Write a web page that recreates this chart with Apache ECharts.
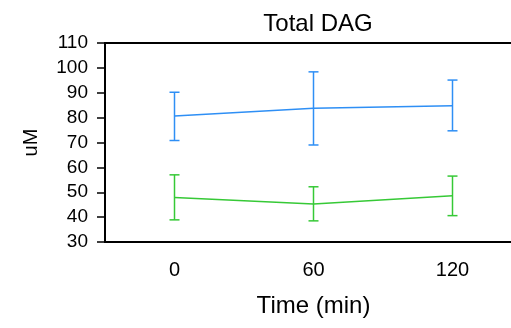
<!DOCTYPE html>
<html><head><meta charset="utf-8">
<script src="https://cdn.jsdelivr.net/npm/echarts@6/dist/echarts.min.js"></script>
<style>html,body{margin:0;padding:0;background:#fff}#c{width:511px;height:328px}</style>
</head><body><div id="c"></div>
<script>
var categories = ['0', '60', '120'];
var blueMean = [80.7, 83.8, 84.8];
var blueLow = [70.8, 69.0, 74.7];
var blueHigh = [90.2, 98.4, 95.1];
var greenMean = [47.9, 45.3, 48.6];
var greenLow = [38.9, 38.5, 40.6];
var greenHigh = [57.0, 52.2, 56.5];
var yTicks = {min: 30, max: 110, interval: 10};

var BLUE = '#2e8ff5';
var GREEN = '#36c936';
var FONT = 'Liberation Sans, Arial, sans-serif';

function errSeries(low, high, color) {
  return {
    type: 'custom',
    data: categories.map(function (c, i) { return [i, low[i], high[i]]; }),
    renderItem: function (params, api) {
      var lo = api.coord([api.value(0), api.value(1)]);
      var hi = api.coord([api.value(0), api.value(2)]);
      var w = 5;
      var st = {stroke: color, lineWidth: 1.5};
      return {type: 'group', children: [
        {type: 'line', shape: {x1: lo[0], y1: lo[1], x2: hi[0], y2: hi[1]}, style: st},
        {type: 'line', shape: {x1: lo[0] - w, y1: lo[1], x2: lo[0] + w, y2: lo[1]}, style: st},
        {type: 'line', shape: {x1: hi[0] - w, y1: hi[1], x2: hi[0] + w, y2: hi[1]}, style: st}
      ]};
    },
    z: 3
  };
}

var chart = echarts.init(document.getElementById('c'));
chart.setOption({
  animation: false,
  title: {text: 'Total DAG', left: 313, textAlign: 'center', top: 7,
    textStyle: {fontFamily: FONT, fontSize: 24, fontWeight: 'normal', color: '#000'}},
  grid: {left: 105, top: 43, width: 417, height: 199, show: true, borderColor: '#000', borderWidth: 2,
    containLabel: false, outerBoundsMode: 'none'},
  xAxis: {
    type: 'category', data: categories, boundaryGap: true,
    name: 'Time (min)', nameLocation: 'middle', nameGap: 52,
    nameTextStyle: {fontFamily: FONT, fontSize: 24, color: '#000'},
    axisLine: {lineStyle: {color: '#000', width: 2}},
    axisTick: {alignWithLabel: true, length: 8, lineStyle: {color: '#000', width: 1.5}},
    axisLabel: {fontFamily: FONT, fontSize: 20, color: '#000', margin: 18},
    splitLine: {show: false}
  },
  yAxis: {
    type: 'value', min: yTicks.min, max: yTicks.max, interval: yTicks.interval,
    name: 'uM', nameLocation: 'middle', nameGap: 64, nameRotate: 90,
    nameTextStyle: {fontFamily: FONT, fontSize: 20, color: '#000'},
    axisLine: {show: true, lineStyle: {color: '#000', width: 2}},
    axisTick: {show: true, length: 8, lineStyle: {color: '#000', width: 1.5}},
    axisLabel: {fontFamily: FONT, fontSize: 19, color: '#000', margin: 17},
    splitLine: {show: false}
  },
  series: [
    {type: 'line', data: blueMean, symbol: 'none', lineStyle: {color: BLUE, width: 1.5}, z: 2},
    {type: 'line', data: greenMean, symbol: 'none', lineStyle: {color: GREEN, width: 1.5}, z: 2},
    errSeries(blueLow, blueHigh, BLUE),
    errSeries(greenLow, greenHigh, GREEN)
  ]
});
</script></body></html>
